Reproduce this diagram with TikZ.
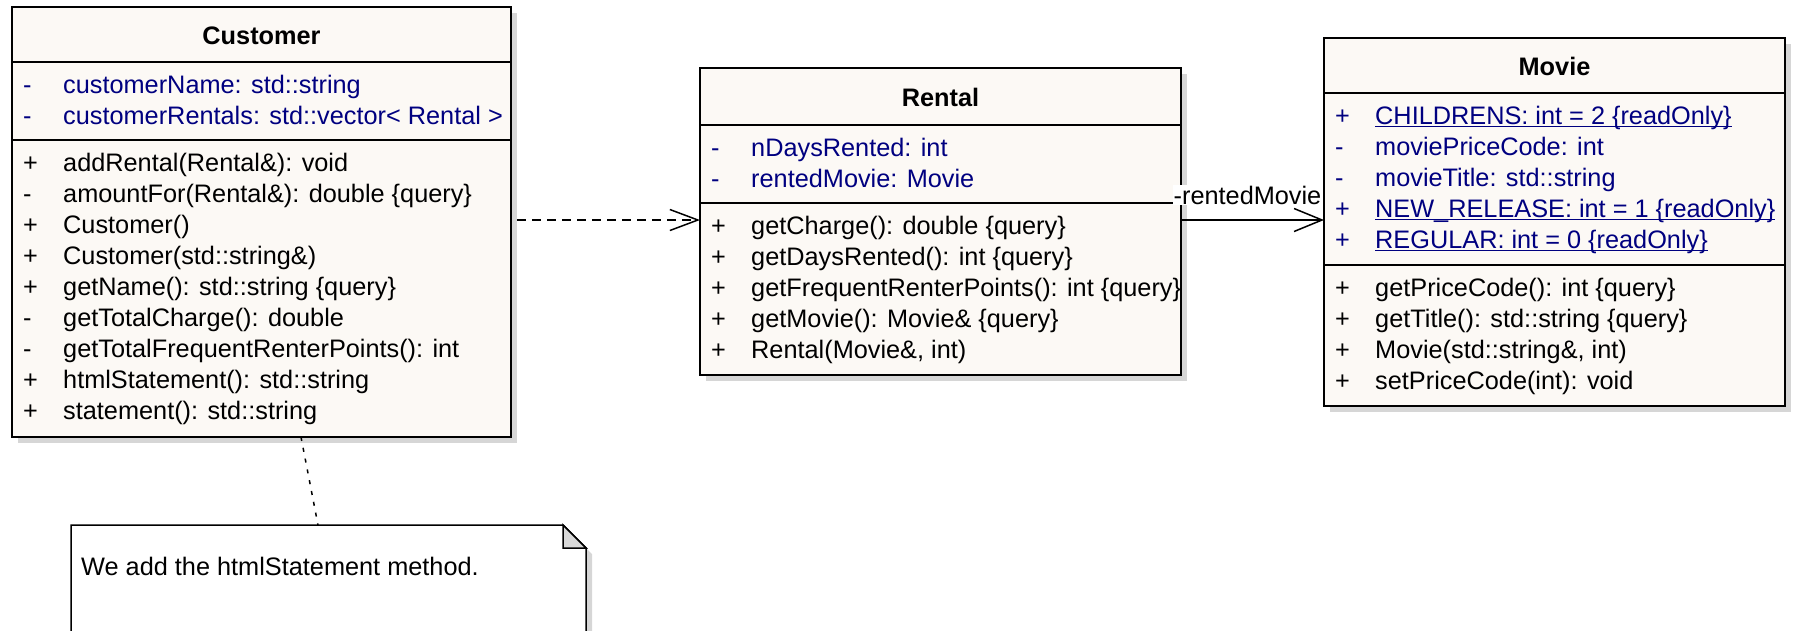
\documentclass[tikz,border=0pt]{standalone}
\usepackage{fontspec}
\setmainfont{Liberation Sans}
\usetikzlibrary{arrows.meta,positioning,shadows}

\definecolor{classfill}{RGB}{252,249,245}
\definecolor{shadowgray}{RGB}{214,214,214}
\definecolor{foldgray}{RGB}{216,216,216}
\definecolor{attrblue}{RGB}{0,0,128}

% visibility marker, then the member text
\newcommand{\mvis}[1]{\strut\makebox[40pt][l]{#1}}
% class-scope members get a line just under the baseline
\newcommand{\ulmember}[1]{\setbox0=\hbox{#1}\rlap{\rule[-3pt]{\wd0}{1.2pt}}\box0}

\tikzset{
  classbox/.style={rectangle, draw, line width=2pt, fill=classfill, inner sep=0pt, outer sep=0pt, anchor=north west,
    drop shadow={shadow xshift=6pt, shadow yshift=-6pt, fill=shadowgray, opacity=1}},
  compartment/.style={line width=1.5pt},
  classname/.style={font=\fontsize{25.3}{31}\selectfont\bfseries},
  members/.style={anchor=north west, inner sep=0pt, align=left, font=\fontsize{25.3}{31}\selectfont},
  attributes/.style={members, text=attrblue},
  notebox/.style={rectangle, inner sep=0pt, outer sep=0pt, anchor=north west},
  noteline/.style={line width=1.5pt},
  dependency/.style={line width=1.5pt, dash pattern=on 9pt off 6pt, shorten <=6pt,
    -{Straight Barb[length=28pt, width=21pt]}},
  association/.style={line width=1.5pt, -{Straight Barb[length=28pt, width=23pt]}},
  notelink/.style={line width=1.5pt, dash pattern=on 4pt off 7pt},
  rolelabel/.style={fill=white, inner sep=1pt, font=\fontsize{25.3}{31}\selectfont}
}

\begin{document}
\begin{tikzpicture}[x=1pt, y=-1pt]
    \useasboundingbox (0,0) rectangle (1793,630);

    % Customer
    \node[classbox, minimum width=499pt, minimum height=430pt] (customer) at (12,7) {};
    \draw[compartment] ([yshift=-55pt]customer.north west) -- ([yshift=-55pt]customer.north east);
    \draw[compartment] ([yshift=-133pt]customer.north west) -- ([yshift=-133pt]customer.north east);
    \node[classname] (customertitle) at ([yshift=-29pt]customer.north) {Customer};
    \node[attributes, below right=64.3pt and 11pt of customer.north west] (customerattrs) {%
        \mvis{-}customerName: std::string\\
        \mvis{-}customerRentals: std::vector< Rental >};
    \node[members, below right=142.3pt and 11pt of customer.north west] (customerops) {%
        \mvis{+}addRental(Rental\&): void\\
        \mvis{-}amountFor(Rental\&): double \{query\}\\
        \mvis{+}Customer()\\
        \mvis{+}Customer(std::string\&)\\
        \mvis{+}getName(): std::string \{query\}\\
        \mvis{-}getTotalCharge(): double\\
        \mvis{-}getTotalFrequentRenterPoints(): int\\
        \mvis{+}htmlStatement(): std::string\\
        \mvis{+}statement(): std::string};

    % Rental
    \node[classbox, minimum width=481pt, minimum height=307pt] (rental) at (700,68) {};
    \draw[compartment] ([yshift=-57pt]rental.north west) -- ([yshift=-57pt]rental.north east);
    \draw[compartment] ([yshift=-135pt]rental.north west) -- ([yshift=-135pt]rental.north east);
    \node[classname] (rentaltitle) at ([yshift=-29.5pt]rental.north) {Rental};
    \node[attributes, below right=66.3pt and 11pt of rental.north west] (rentalattrs) {%
        \mvis{-}nDaysRented: int\\
        \mvis{-}rentedMovie: Movie};
    \node[members, below right=144.3pt and 11pt of rental.north west] (rentalops) {%
        \mvis{+}getCharge(): double \{query\}\\
        \mvis{+}getDaysRented(): int \{query\}\\
        \mvis{+}getFrequentRenterPoints(): int \{query\}\\
        \mvis{+}getMovie(): Movie\& \{query\}\\
        \mvis{+}Rental(Movie\&, int)};

    % Movie
    \node[classbox, minimum width=461pt, minimum height=368pt] (movie) at (1324,38) {};
    \draw[compartment] ([yshift=-55pt]movie.north west) -- ([yshift=-55pt]movie.north east);
    \draw[compartment] ([yshift=-227pt]movie.north west) -- ([yshift=-227pt]movie.north east);
    \node[classname] (movietitle) at ([yshift=-28.5pt]movie.north) {Movie};
    \node[attributes, below right=64.3pt and 11pt of movie.north west] (movieattrs) {%
        \mvis{+}\ulmember{CHILDRENS: int = 2 \{readOnly\}}\\
        \mvis{-}moviePriceCode: int\\
        \mvis{-}movieTitle: std::string\\
        \mvis{+}\ulmember{NEW\_RELEASE: int = 1 \{readOnly\}}\\
        \mvis{+}\ulmember{REGULAR: int = 0 \{readOnly\}}};
    \node[members, below right=236.3pt and 11pt of movie.north west] (movieops) {%
        \mvis{+}getPriceCode(): int \{query\}\\
        \mvis{+}getTitle(): std::string \{query\}\\
        \mvis{+}Movie(std::string\&, int)\\
        \mvis{+}setPriceCode(int): void};

    % note with folded corner
    \node[notebox, minimum width=515pt, minimum height=140pt] (note) at (71,525) {};
    \draw[noteline, fill=white, drop shadow={shadow xshift=6pt, shadow yshift=-6pt, fill=shadowgray, opacity=1}]
        (note.north west) -- ([xshift=-23pt]note.north east) -- ([yshift=-23pt]note.north east)
        -- (note.south east) -- (note.south west) -- cycle;
    \draw[noteline, fill=foldgray] ([xshift=-23pt]note.north east) -- ([xshift=-23pt, yshift=-23pt]note.north east)
        -- ([yshift=-23pt]note.north east) -- cycle;
    \node[members, anchor=base west] (notetext) at ([xshift=10pt, yshift=-50pt]note.north west) {We add the htmlStatement method.};

    % connectors
    \draw[dependency] ([yshift=2pt]customer.east) -- ([yshift=1.5pt]rental.west);
    \draw[association] ([yshift=1.5pt]rental.east) -- ([yshift=2pt]movie.west)
        node[rolelabel, pos=0.465, above=14pt] (rolename) {-rentedMovie};
    \draw[notelink] ([xshift=39.5pt]customer.south) -- ([xshift=-10.5pt]note.north);
\end{tikzpicture}
\end{document}
